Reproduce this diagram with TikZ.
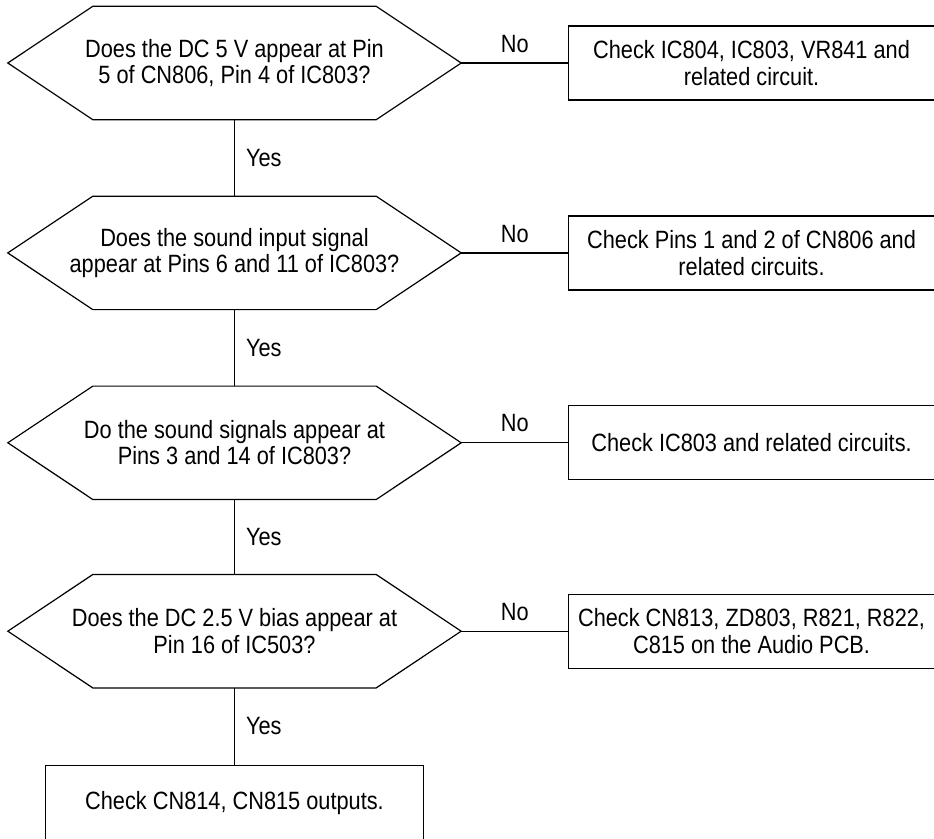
\documentclass[tikz,border=0pt]{standalone}
\usepackage{fontspec}
\setmainfont{Liberation Sans}[FakeStretch=0.87]
\usepackage{tikz}
\usetikzlibrary{positioning}

\tikzset{
  quest/.style={align=center, inner sep=0pt, minimum width=453pt, minimum height=113pt},
  check/.style={draw, line width=1.2pt, align=center, inner sep=0pt, minimum width=365.5pt, minimum height=74pt},
  link/.style={line width=1.2pt},
  answer/.style={inner sep=0pt}
}

\begin{document}
\begin{tikzpicture}[x=1pt, y=-1pt, font=\fontsize{25}{26.5}\selectfont]
  \useasboundingbox (0,0) rectangle (934,838);

  % questions
  \node[quest] (q1) at (234.5,63) {Does the DC 5 V appear at Pin\\5 of CN806, Pin 4 of IC803?};
  \node[quest, below=76.5pt of q1] (q2) {Does the sound input signal\\appear at Pins 6 and 11 of IC803?};
  \node[quest, below=76.5pt of q2] (q3) {Do the sound signals appear at\\Pins 3 and 14 of IC803?};
  \node[quest, below=75pt of q3] (q4) {Does the DC 2.5 V bias appear at\\Pin 16 of IC503?};
  \foreach \q in {q1,q2,q3,q4}
    \draw[link] (\q.west) -- ([xshift=85pt]\q.north west) -- ([xshift=-85pt]\q.north east)
      -- (\q.east) -- ([xshift=-85pt]\q.south east) -- ([xshift=85pt]\q.south west) -- cycle;

  % checks
  \node[check, right=107pt of q1] (c1) {Check IC804, IC803, VR841 and\\related circuit.};
  \node[check, right=107pt of q2] (c2) {Check Pins 1 and 2 of CN806 and\\related circuits.};
  \node[check, right=107pt of q3] (c3) {Check IC803 and related circuits.};
  \node[check, right=107pt of q4] (c4) {Check CN813, ZD803, R821, R822,\\C815 on the Audio PCB.};
  \node[check, minimum width=378pt, minimum height=76pt, below=77pt of q4] (c5) {Check CN814, CN815 outputs.};

  % answers
  \foreach \q/\c in {q1/c1,q2/c2,q3/c3,q4/c4}
    \draw[link] (\q.east) -- (\c.west) node[answer, midway, above=10pt] {No};
  \foreach \a/\b in {q1/q2,q2/q3,q3/q4,q4/c5}
    \draw[link] (\a.south) -- (\b.north) node[answer, midway, right=11pt] {Yes};
\end{tikzpicture}
\end{document}
